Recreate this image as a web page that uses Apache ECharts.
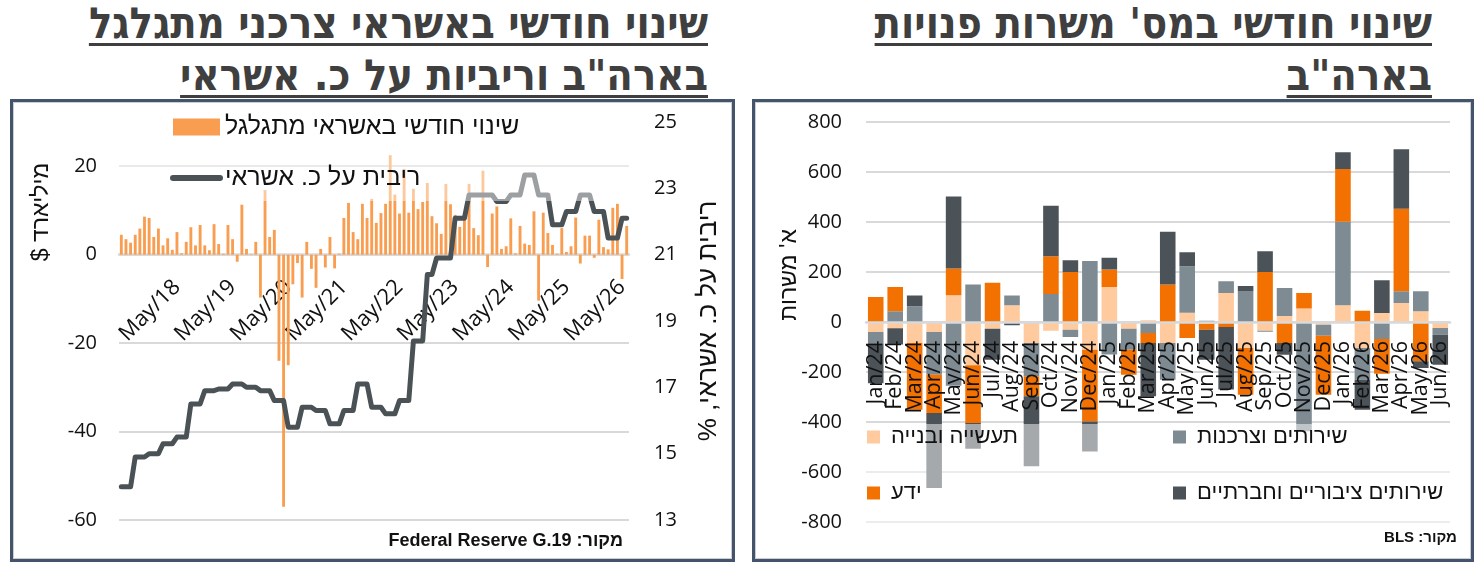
<!DOCTYPE html>
<html>
<head>
<meta charset="utf-8">
<script src="https://cdn.jsdelivr.net/npm/echarts/dist/echarts.min.js"></script>
<style>
body{margin:0;width:1484px;height:572px;background:#fff;position:relative;overflow:hidden}
.title{position:absolute;top:-3px;direction:rtl;text-align:right;white-space:nowrap;
  font-family:'DejaVu Sans Condensed','DejaVu Sans',sans-serif;font-weight:bold;font-size:43px;
  line-height:52px;color:#3f3f3f;text-decoration:underline;text-decoration-thickness:3px;text-underline-offset:5px}
.panel{position:absolute;top:99px;height:463px;box-sizing:border-box;border:3px solid #44546a;box-shadow:inset 0 0 0 1px #c9ced6}
.chart{width:100%;height:100%}
</style>
</head>
<body>
<div class="title" style="right:776px">שינוי חודשי באשראי צרכני מתגלגל<br>בארה"ב וריביות על כ. אשראי</div>
<div class="title" style="right:52px">שינוי חודשי במס' משרות פנויות<br>בארה"ב</div>
<div class="panel" style="left:10px;width:725px"><div id="credit" class="chart"></div></div>
<div class="panel" style="left:752px;width:722px"><div id="jobs" class="chart"></div></div>
<script>
// ---- left chart data: May/17 .. Jun/26, monthly ----
var creditStart = [2017, 4]; // year, month index (May)
var creditChange = [4.5, 3.5, 2.7, 4.5, 5.9, 8.6, 8.3, 4.0, 5.9, 2.1,
  3.7, 1.1, 5.1, 0.3, 2.9, 6.2, 2.1, 6.7, 2.1, 1.0,
  6.9, 2.4, 0.2, 6.7, 3.5, -1.6, 11.3, 1.3, 0.1, 2.9,
  -9.7, 14.6, 4.0, 5.6, -24, -57, -25, -6.7, -1.9, -9.7,
  2.9, -3.2, -7.5, 1.3, -2.9, 4.0, -3.1, 0.2, 8.3, 11.7,
  5.1, 3.5, 11.5, 8.3, 12.6, 7.2, 9.4, 11.5, 22.5, 13.6,
  9.3, 19.4, 9.5, 14.9, 10.3, 11.9, 16.2, 8.7, 7.1, 4.7,
  16.0, 11.4, 9.0, 6.3, 7.9, 16.0, 6.0, 4.4, 19.0, -2.8,
  9.3, 10.9, 1.3, 1.9, 8.2, 0.3, 6.5, 2.5, 2.2, 9.8,
  -10.4, 9.5, 4.9, 2.2, 0.2, 6.0, 0.6, 1.9, 8.4, -2.0,
  4.3, 4.3, -0.7, 7.9, 1.7, 1.2, 10.6, 11.5, -5.5, 6.5];
var cardRate = [14.0, 14.0, 14.0, 14.9, 14.9, 14.9, 15.0, 15.0, 15.0, 15.3,
  15.3, 15.3, 15.5, 15.5, 15.5, 16.5, 16.5, 16.5, 16.9, 16.9,
  16.9, 16.95, 16.95, 16.95, 17.1, 17.1, 17.1, 17.0, 17.0, 17.0,
  16.9, 16.9, 16.9, 16.6, 16.6, 16.6, 15.8, 15.8, 15.8, 16.4,
  16.4, 16.4, 16.3, 16.3, 16.3, 15.9, 15.9, 15.9, 16.3, 16.3,
  16.3, 17.1, 17.1, 17.1, 16.4, 16.4, 16.4, 16.2, 16.2, 16.2,
  16.6, 16.6, 16.6, 18.4, 18.4, 18.4, 20.4, 20.4, 20.9, 20.9,
  20.9, 20.9, 22.1, 22.1, 22.1, 22.8, 22.8, 22.8, 22.8, 22.8,
  22.8, 22.6, 22.6, 22.6, 22.8, 22.8, 22.8, 23.4, 23.4, 23.4,
  22.8, 22.8, 22.8, 21.9, 21.9, 21.9, 22.3, 22.3, 22.3, 22.8,
  22.8, 22.8, 22.3, 22.3, 22.3, 21.5, 21.5, 21.5, 22.1, 22.1];
var creditTicks = [-60, 30, 20];   // min, max, interval
var rateTicks = [13, 25, 2];

// ---- right chart data: Jan/24 .. Jun/26 ----
var jobMonths = ['Jan/24','Feb/24','Mar/24','Apr/24','May/24','Jun/24','Jul/24','Aug/24','Sep/24','Oct/24','Nov/24','Dec/24',
  'Jan/25','Feb/25','Mar/25','Apr/25','May/25','Jun/25','Jul/25','Aug/25','Sep/25','Oct/25','Nov/25','Dec/25',
  'Jan/26','Feb/26','Mar/26','Apr/26','May/26','Jun/26'];
var industry = [-40, -25, -84, -40, 107, -173, -27, 67, -84, -35, -31, -111, 140, -27, 7, -84, 37, -7, 116, -104, -35, 24, 54, -11, 67, -104, 36, 76, 43, -24];
var services = [-45, 43, 63, -171, -255, 150, 0, 39, -133, 112, -29, 244, -130, -84, -44, -147, 186, 5, 47, 124, -4, 112, -437, -44, 334, -127, -68, 47, 80, -27];
var knowledge = [100, 97, -267, -153, 107, -231, 157, 0, -80, 151, 200, -287, 70, -100, -40, 150, -64, -24, -20, -187, 200, -84, 62, -236, 211, 45, -139, 330, -157, 0];
var publicSvc = [-160, -65, 43, -300, 288, -103, -124, -13, -280, 202, 47, -120, 47, 0, -213, 211, 56, -120, -250, 20, 83, -47, 0, 0, 67, -120, 131, 238, -27, -120];
var jobTicks = [-800, 800, 200];

var MON = ['Jan','Feb','Mar','Apr','May','Jun','Jul','Aug','Sep','Oct','Nov','Dec'];
function monthLabels(start, n) {
  var out = [];
  for (var k = 0; k < n; k++) {
    var m = start[1] + k;
    var y = start[0] + Math.floor(m / 12);
    out.push(MON[m % 12] + '/' + String(y).slice(2));
  }
  return out;
}
var creditMonths = monthLabels(creditStart, creditChange.length);

var NUM_FONT = "'Open Sans', 'Liberation Sans', sans-serif";
var HEB_FONT = "'Liberation Sans', 'DejaVu Sans', sans-serif";
var RLE = '\u202B', PDF = '\u202C';

// distance from grid bottom up to the zero line, so the category axis sits on 0
function zeroOffset(top, height, min, max) {
  var zeroY = top + height * max / (max - min);
  return -(top + height - zeroY);
}

(function (bidDiv) {
  var g = {left: 106, top: 20, width: 510, height: 398};
  var option = {
    animation: false,
    textStyle: {fontFamily: NUM_FONT},
    grid: {left: g.left, top: g.top, width: g.width, height: g.height, outerBoundsMode: 'none'},
    legend: {
      orient: 'vertical', left: 157, top: 11, padding: 0, itemGap: 23, z: 20,
      itemWidth: 47, itemHeight: 17,
      textStyle: {fontFamily: HEB_FONT, fontSize: 25, color: '#111', lineHeight: 28},
      data: [
        {name: 'שינוי חודשי באשראי מתגלגל', icon: 'rect'},
        {name: 'ריבית על כ. אשראי',
          itemStyle: {color: 'rgba(0,0,0,0)', borderColor: 'rgba(0,0,0,0)', borderWidth: 0},
          lineStyle: {color: '#4B5256', width: 6, cap: 'round'}}
      ]
    },
    xAxis: {
      type: 'category',
      data: creditMonths,
      offset: zeroOffset(g.top, g.height, creditTicks[0], creditTicks[1]),
      axisLine: {onZero: false, lineStyle: {color: '#d9d9d9', width: 2.5}},
      axisTick: {show: false},
      axisLabel: {
        rotate: 45, margin: 29, fontSize: 22, color: '#111',
        interval: function (i) { return i > 0 && i % 12 === 0; }
      },
      splitLine: {show: false}
    },
    yAxis: [
      {
        type: 'value', position: 'left',
        min: creditTicks[0], max: creditTicks[1], interval: creditTicks[2],
        axisLine: {show: false}, axisTick: {show: false},
        axisLabel: {fontSize: 20, color: '#111', margin: 22, showMaxLabel: false},
        splitLine: {lineStyle: {color: '#d9d9d9', width: 2}, showMaxLine: false}
      },
      {
        type: 'value', position: 'right',
        min: rateTicks[0], max: rateTicks[1], interval: rateTicks[2],
        name: RLE + 'ריבית על כ. אשראי, %' + PDF,
        nameLocation: 'middle', nameRotate: 90, nameGap: 67,
        nameTextStyle: {fontFamily: HEB_FONT, fontSize: 26, color: '#111'},
        axisLine: {show: false}, axisTick: {show: false},
        axisLabel: {fontSize: 20, color: '#111', margin: 25},
        splitLine: {show: false}
      }
    ],
    graphic: [
      {type: 'rect', z: 10, silent: true,
        shape: {x: 105, y: 6, width: 512, height: 93},
        style: {fill: 'rgba(255,255,255,0.45)'}},
      {type: 'text', x: 29, y: 110, rotation: Math.PI / 2,
        style: {text: RLE + 'מיליארד $' + PDF, font: '23px ' + HEB_FONT, fill: '#111',
          align: 'center', verticalAlign: 'middle', textAlign: 'center', textVerticalAlign: 'middle'}},
      {type: 'text', x: 610, y: 439,
        style: {text: RLE + 'מקור: Federal Reserve G.19' + PDF,
          font: "bold 18px 'Liberation Sans Narrow', 'Liberation Sans', sans-serif", fill: '#111',
          align: 'right', verticalAlign: 'middle', textAlign: 'right', textVerticalAlign: 'middle'}}
    ],
    series: [
      {
        name: 'שינוי חודשי באשראי מתגלגל',
        type: 'bar', yAxisIndex: 0,
        data: creditChange,
        barCategoryGap: '38%',
        itemStyle: {color: '#F99D50'}
      },
      {
        name: 'ריבית על כ. אשראי',
        type: 'line', yAxisIndex: 1,
        data: cardRate,
        symbol: 'none', z: 3,
        itemStyle: {color: '#4B5256'},
        lineStyle: {color: '#4B5256', width: 5, join: 'round', cap: 'round'}
      }
    ]
  };
  var myChart = echarts.init(document.getElementById(bidDiv));
  myChart.setOption(option);
})('credit');

(function (bidDiv) {
  var g = {left: 111, top: 20, width: 584, height: 400};
  var names = ['תעשייה ובנייה', 'שירותים וצרכנות', 'ידע', 'שירותים ציבוריים וחברתיים'];
  var colors = ['#FFCA9E', '#7E8B92', '#F27100', '#4B5359'];
  var values = [industry, services, knowledge, publicSvc];
  var legendBase = {
    orient: 'vertical', top: 323, padding: 0, itemGap: 32, z: 20,
    itemWidth: 13, itemHeight: 13, icon: 'rect',
    textStyle: {fontFamily: HEB_FONT, fontSize: 22, color: '#111', lineHeight: 24, padding: [0, 0, 0, 6]}
  };
  var option = {
    animation: false,
    textStyle: {fontFamily: NUM_FONT},
    grid: {left: g.left, top: g.top, width: g.width, height: g.height, outerBoundsMode: 'none'},
    legend: [
      Object.assign({left: 112, data: [names[0], names[2]]}, legendBase),
      Object.assign({left: 418, data: [names[1], names[3]]}, legendBase)
    ],
    xAxis: {
      type: 'category', data: jobMonths, z: 10,
      offset: zeroOffset(g.top, g.height, jobTicks[0], jobTicks[1]),
      axisLine: {onZero: false, lineStyle: {color: '#d9d9d9', width: 2.5}},
      axisTick: {show: false},
      axisLabel: {rotate: 90, margin: 19, fontSize: 21.5, color: '#111', interval: 0}
    },
    yAxis: {
      type: 'value', min: jobTicks[0], max: jobTicks[1], interval: jobTicks[2],
      axisLine: {show: false}, axisTick: {show: false},
      axisLabel: {fontSize: 20, color: '#111', margin: 24},
      splitLine: {lineStyle: {color: '#d9d9d9', width: 2}}
    },
    graphic: [
      {type: 'rect', z: 10, silent: true,
        shape: {x: 110, y: 322, width: 585, height: 106},
        style: {fill: 'rgba(255,255,255,0.5)'}},
      {type: 'text', x: 35, y: 173, rotation: Math.PI / 2,
        style: {text: RLE + "א' משרות" + PDF, font: '23px ' + HEB_FONT, fill: '#111',
          align: 'center', verticalAlign: 'middle', textAlign: 'center', textVerticalAlign: 'middle'}},
      {type: 'text', x: 702, y: 436,
        style: {text: RLE + 'מקור: BLS' + PDF,
          font: "bold 15px 'Liberation Sans Narrow', 'Liberation Sans', sans-serif", fill: '#111',
          align: 'right', verticalAlign: 'middle', textAlign: 'right', textVerticalAlign: 'middle'}}
    ],
    series: names.map(function (n, k) {
      return {
        name: n, type: 'bar', stack: 'jobs',
        data: values[k],
        barCategoryGap: '20%',
        itemStyle: {color: colors[k]}
      };
    })
  };
  var myChart = echarts.init(document.getElementById(bidDiv));
  myChart.setOption(option);
})('jobs');
</script>
</body>
</html>
